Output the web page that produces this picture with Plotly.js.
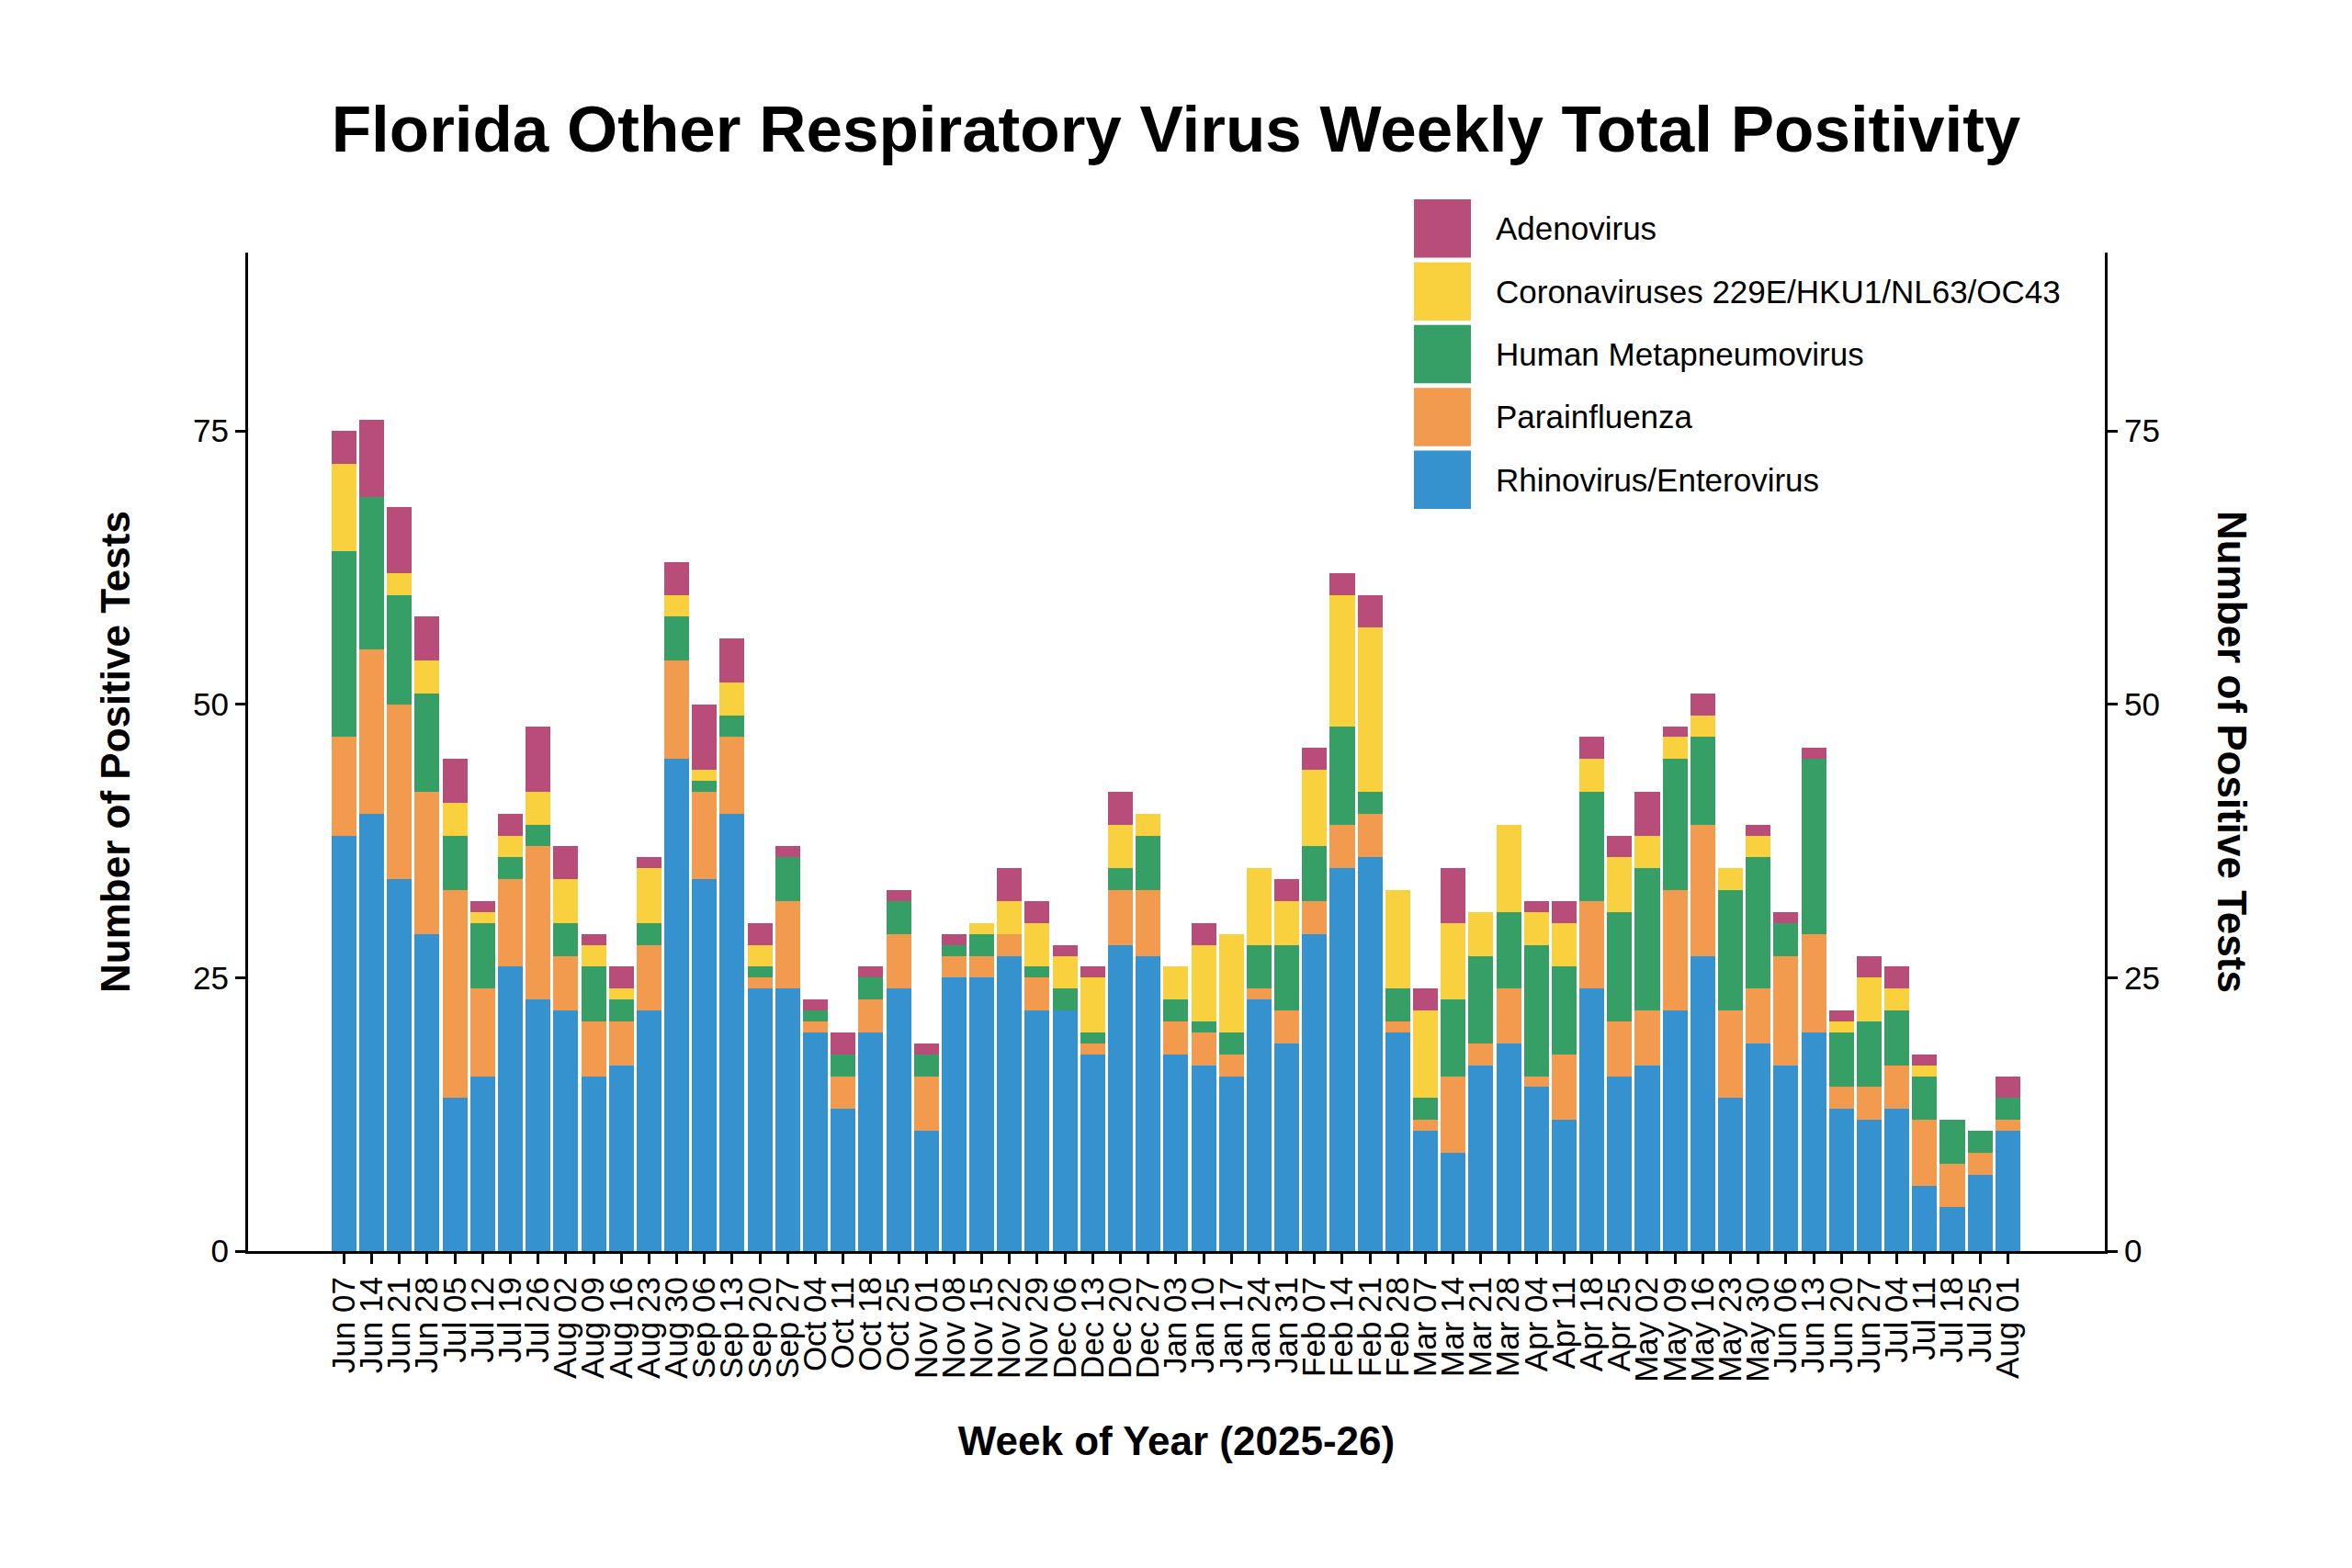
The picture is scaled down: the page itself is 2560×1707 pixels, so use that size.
<!DOCTYPE html>
<html>
<head>
<meta charset="utf-8">
<script src="https://cdn.plot.ly/plotly-3.0.1.min.js"></script>
<style>
  html, body { margin: 0; padding: 0; background: #ffffff; }
  #chart { width: 2560px; height: 1707px; }
</style>
</head>
<body>
<div id="chart"></div>
<script>
// ---- Data ----
const weeks = ["Jun 07","Jun 14","Jun 21","Jun 28","Jul 05","Jul 12","Jul 19","Jul 26",
  "Aug 02","Aug 09","Aug 16","Aug 23","Aug 30","Sep 06","Sep 13","Sep 20","Sep 27",
  "Oct 04","Oct 11","Oct 18","Oct 25","Nov 01","Nov 08","Nov 15","Nov 22","Nov 29",
  "Dec 06","Dec 13","Dec 20","Dec 27","Jan 03","Jan 10","Jan 17","Jan 24","Jan 31",
  "Feb 07","Feb 14","Feb 21","Feb 28","Mar 07","Mar 14","Mar 21","Mar 28",
  "Apr 04","Apr 11","Apr 18","Apr 25","May 02","May 09","May 16","May 23","May 30",
  "Jun 06","Jun 13","Jun 20","Jun 27","Jul 04","Jul 11","Jul 18","Jul 25","Aug 01"];

const rhinoEntero = [38,40,34,29,14,16,26,23,22,16,17,22,45,34,40,24,24,20,13,20,24,11,25,25,27,22,
  22,18,28,27,18,17,16,23,19,29,35,36,20,11,9,17,19,15,12,24,16,17,22,27,14,19,17,20,13,12,13,6,4,7,11];
const parainfluenza = [9,15,16,13,19,8,8,14,5,5,4,6,9,8,7,1,8,1,3,3,5,5,2,2,2,3,
  0,1,5,6,3,3,2,1,3,3,4,4,1,1,7,2,5,1,6,8,5,5,11,12,8,5,10,9,2,3,4,6,4,2,1];
const hmpv = [17,14,10,9,5,6,2,2,3,5,2,2,4,1,2,1,4,1,2,2,3,2,1,2,0,1,
  2,1,2,5,2,1,2,4,6,5,9,2,3,2,7,8,7,12,8,10,10,13,12,8,11,12,3,16,5,6,5,4,4,2,2];
const coronavirus = [8,0,2,3,3,1,2,3,4,2,1,5,2,1,3,2,0,0,0,0,0,0,0,1,3,4,
  3,5,4,2,3,7,9,7,4,7,12,15,9,8,7,4,8,3,4,3,5,3,2,2,2,2,0,0,1,4,2,1,0,0,0];
const adenovirus = [3,7,6,4,4,1,2,6,3,1,2,1,3,6,4,2,1,1,2,1,1,1,1,0,3,2,
  1,1,3,0,0,2,0,0,2,2,2,3,0,2,5,0,0,1,2,2,2,4,1,2,0,1,1,1,1,2,2,1,0,0,2];

const seriesNames = ["Rhinovirus/Enterovirus","Parainfluenza","Human Metapneumovirus",
  "Coronaviruses 229E/HKU1/NL63/OC43","Adenovirus"];
const seriesValues = [rhinoEntero, parainfluenza, hmpv, coronavirus, adenovirus];
const seriesColors = ["#3592ce","#f29a4e","#359f65","#f9d13f","#b84d79"];
const yTicks = [0,25,50,75];
const yTitle = "Number of Positive Tests";

// ---- Geometry (pixels) ----
const W = 2560, H = 1707;
const L = 270, R = 2291, T = 275, B = 1362;
const FONT = "Liberation Sans, Arial, Helvetica, sans-serif";
const pw = R - L, ph = B - T;
const px2x = p => (p - L) / pw;
const px2y = p => (B - p) / ph;

const traces = seriesNames.map((name, i) => ({
  type: "bar",
  name: name,
  x: weeks,
  y: seriesValues[i],
  marker: { color: seriesColors[i], line: { width: 0 } },
  showlegend: false,
  hoverinfo: "x+y+name"
}));
// empty trace so that the secondary (right) axis gets drawn
traces.push({ type: "scatter", x: [], y: [], yaxis: "y2", mode: "markers",
  showlegend: false, hoverinfo: "skip" });

// custom legend (top entry = top of stack)
const shapes = [];
const annotations = [];
const legendOrder = [4,3,2,1,0];
legendOrder.forEach((si, k) => {
  const top = 217 + k * 68.4;
  const bot = top + 63.5;
  shapes.push({
    type: "rect", xref: "paper", yref: "paper",
    x0: px2x(1539), x1: px2x(1601), y0: px2y(bot), y1: px2y(top),
    fillcolor: seriesColors[si], line: { width: 0 }
  });
  annotations.push({
    xref: "paper", yref: "paper",
    x: px2x(1626), y: px2y((top + bot) / 2),
    xanchor: "left", yanchor: "middle",
    text: seriesNames[si], showarrow: false,
    font: { family: FONT, size: 35, color: "#000000" }
  });
});
// right axis title reads top-to-bottom
annotations.push({
  xref: "paper", yref: "paper",
  x: px2x(2430), y: px2y(818),
  xanchor: "center", yanchor: "middle",
  textangle: 90,
  text: yTitle, showarrow: false,
  font: { family: FONT, size: 44, color: "#000000", weight: "bold" }
});

const axisCommon = {
  showline: true, linecolor: "#000000", linewidth: 3,
  ticks: "outside", ticklen: 11, tickwidth: 3, tickcolor: "#000000",
  showgrid: false, zeroline: false,
  tickfont: { family: FONT, size: 35, color: "#000000" }
};

const layout = {
  width: W, height: H,
  paper_bgcolor: "#ffffff", plot_bgcolor: "#ffffff",
  margin: { l: L, r: W - R, t: T, b: H - B, pad: 0 },
  barmode: "stack",
  bargap: 0.105,
  showlegend: false,
  title: {
    text: "Florida Other Respiratory Virus Weekly Total Positivity",
    font: { family: FONT, size: 71, color: "#000000", weight: "bold" },
    x: 0.5, xref: "container", xanchor: "center",
    y: 1 - 140 / H, yref: "container", yanchor: "middle"
  },
  xaxis: Object.assign({}, axisCommon, {
    type: "category",
    range: [-3.46, 63.5],
    tickangle: -90,
    tickmode: "array",
    tickvals: weeks,
    ticktext: weeks,
    automargin: false,
    title: { text: "Week of Year (2025-26)", standoff: 50,
      font: { family: FONT, size: 44, color: "#000000", weight: "bold" } }
  }),
  yaxis: Object.assign({}, axisCommon, {
    range: [0, 91.3],
    tickmode: "array",
    tickvals: yTicks,
    automargin: false,
    title: { text: yTitle, standoff: 55,
      font: { family: FONT, size: 44, color: "#000000", weight: "bold" } }
  }),
  yaxis2: Object.assign({}, axisCommon, {
    overlaying: "y", side: "right", anchor: "x",
    range: [0, 91.3],
    tickmode: "array",
    tickvals: yTicks,
    automargin: false
  }),
  shapes: shapes,
  annotations: annotations
};

Plotly.newPlot("chart", traces, layout, { displayModeBar: false, staticPlot: true });
</script>
</body>
</html>
